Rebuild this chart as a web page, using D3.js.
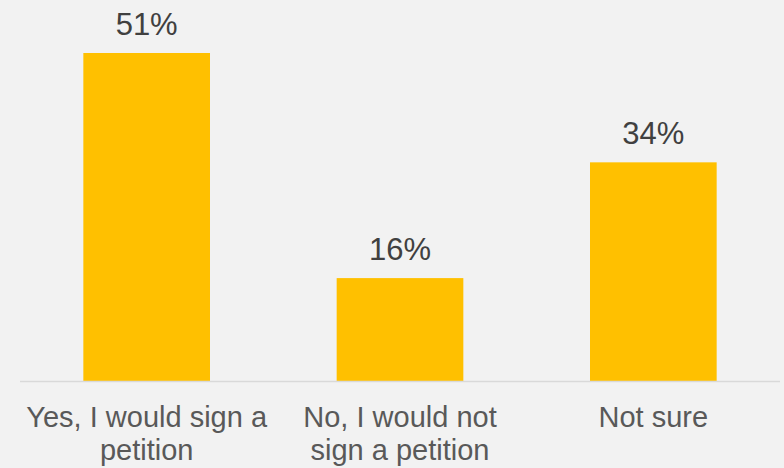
<!DOCTYPE html>
<html>
<head>
<meta charset="utf-8">
<script src="https://cdn.jsdelivr.net/npm/d3@7"></script>
<style>
  html, body { margin: 0; padding: 0; background: #f2f2f2; }
  svg { display: block; }
</style>
</head>
<body>
<script>
// Survey answers and their shares (percent)
const categories = [
  ["Yes, I would sign a", "petition"],
  ["No, I would not", "sign a petition"],
  ["Not sure"]
];
const values = [51, 16, 34];

const width = 784, height = 468;
const baseY = 381;

const svg = d3.select("body").append("svg")
  .attr("width", width)
  .attr("height", height);

svg.append("rect")
  .attr("width", width).attr("height", height)
  .attr("fill", "#f2f2f2");

const x = d3.scaleBand()
  .domain(d3.range(categories.length))
  .range([20, 780])
  .paddingInner(0.5)
  .paddingOuter(0.25);

const y = d3.scaleLinear()
  .domain([0, 51])
  .range([baseY, 53]);

// bars
svg.selectAll("rect.bar")
  .data(values)
  .join("rect")
  .attr("class", "bar")
  .attr("x", (d, i) => x(i))
  .attr("width", x.bandwidth())
  .attr("y", d => y(d))
  .attr("height", d => baseY - y(d))
  .attr("fill", "#ffc000");

// category axis line
svg.append("line")
  .attr("x1", 20).attr("x2", 780)
  .attr("y1", baseY + 0.5).attr("y2", baseY + 0.5)
  .attr("stroke", "#d9d9d9")
  .attr("stroke-width", 1.5);

// value labels
svg.selectAll("text.val")
  .data(values)
  .join("text")
  .attr("class", "val")
  .attr("x", (d, i) => x(i) + x.bandwidth() / 2)
  .attr("y", d => y(d) - 18)
  .attr("text-anchor", "middle")
  .attr("font-family", "Liberation Sans, Arial, sans-serif")
  .attr("font-size", 31)
  .attr("fill", "#404040")
  .text(d => d + "%");

// category labels
const lbl = svg.selectAll("text.cat")
  .data(categories)
  .join("text")
  .attr("class", "cat")
  .attr("text-anchor", "middle")
  .attr("font-family", "Liberation Sans, Arial, sans-serif")
  .attr("font-size", 29)
  .attr("fill", "#595959");

lbl.selectAll("tspan")
  .data((d, i) => d.map(t => ({ t, i })))
  .join("tspan")
  .attr("x", d => x(d.i) + x.bandwidth() / 2)
  .attr("y", (d, j) => 427 + j * 33)
  .text(d => d.t);
</script>
</body>
</html>
